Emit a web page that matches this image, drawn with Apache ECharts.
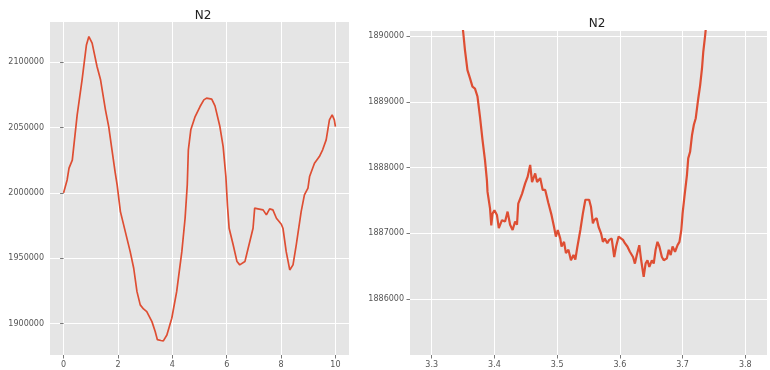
<!DOCTYPE html>
<html>
<head>
<meta charset="utf-8">
<script src="https://cdn.jsdelivr.net/npm/echarts@6/dist/echarts.min.js"></script>
<style>html,body{margin:0;padding:0;background:#fff}#c{width:770px;height:370px}</style>
</head>
<body>
<div id="c"></div>
<script>
// Left panel: full series
const leftX = [0,0.05,0.13,0.2,0.32,0.5,0.68,0.84,0.93,1.0,1.05,1.23,1.36,1.54,1.66,1.78,1.9,1.97,2.09,2.27,2.45,2.58,2.70,2.82,2.94,3.06,3.25,3.37,3.45,3.58,3.67,3.80,3.98,4.16,4.35,4.47,4.55,4.59,4.68,4.84,5.02,5.16,5.26,5.45,5.57,5.75,5.87,5.97,6.03,6.09,6.24,6.38,6.48,6.67,6.79,6.97,7.03,7.15,7.34,7.46,7.58,7.70,7.83,8.01,8.07,8.19,8.32,8.44,8.56,8.74,8.86,8.99,9.05,9.23,9.41,9.53,9.66,9.78,9.88,9.96,10.0];
const leftY = [2000000,1999200,2009900,2018900,2025000,2059600,2086400,2113100,2119500,2118000,2114400,2096600,2086400,2063500,2050700,2032900,2015300,2006100,1985700,1970400,1955100,1942400,1924500,1914400,1911300,1909300,1901600,1894000,1887800,1887200,1886900,1891400,1904200,1924500,1955100,1980600,2006100,2032900,2048200,2058300,2066000,2071100,2072400,2071600,2066500,2050700,2035400,2012500,1990000,1973000,1960200,1947500,1945000,1947500,1957700,1973000,1988300,1987800,1987000,1983200,1987800,1987000,1980600,1976000,1973000,1955100,1941100,1945000,1960200,1985700,1998500,2003600,2012500,2022700,2027800,2032900,2040500,2055800,2059600,2055800,2050700];
// Right panel: zoomed detail
const rightX = [3.346,3.350,3.353,3.357,3.361,3.365,3.369,3.373,3.377,3.381,3.385,3.388,3.389,3.393,3.395,3.397,3.400,3.404,3.407,3.412,3.417,3.421,3.425,3.429,3.433,3.436,3.438,3.444,3.449,3.453,3.457,3.460,3.465,3.468,3.473,3.477,3.481,3.486,3.491,3.495,3.498,3.501,3.505,3.507,3.511,3.514,3.518,3.522,3.526,3.529,3.532,3.537,3.541,3.545,3.548,3.551,3.554,3.557,3.559,3.563,3.566,3.570,3.573,3.576,3.580,3.583,3.587,3.591,3.594,3.598,3.600,3.605,3.608,3.612,3.616,3.621,3.624,3.627,3.631,3.634,3.638,3.641,3.644,3.647,3.651,3.654,3.657,3.660,3.663,3.667,3.670,3.675,3.678,3.681,3.684,3.688,3.692,3.695,3.698,3.700,3.703,3.707,3.709,3.712,3.715,3.718,3.721,3.725,3.728,3.731,3.733,3.736,3.740];
const rightY = [1890300,1890080,1889790,1889480,1889360,1889230,1889200,1889080,1888770,1888420,1888110,1887810,1887630,1887380,1887120,1887300,1887350,1887280,1887080,1887200,1887180,1887330,1887130,1887050,1887180,1887130,1887450,1887600,1887760,1887860,1888040,1887780,1887910,1887780,1887840,1887660,1887660,1887460,1887280,1887100,1886950,1887050,1886920,1886800,1886870,1886700,1886750,1886590,1886670,1886600,1886780,1887050,1887300,1887510,1887530,1887510,1887400,1887150,1887200,1887230,1887100,1887000,1886870,1886920,1886850,1886900,1886920,1886640,1886800,1886950,1886970,1886900,1886850,1886800,1886720,1886640,1886540,1886670,1886820,1886590,1886340,1886540,1886590,1886490,1886590,1886540,1886750,1886870,1886800,1886640,1886590,1886620,1886750,1886670,1886800,1886720,1886820,1886870,1887050,1887300,1887560,1887890,1888140,1888240,1888490,1888650,1888750,1889050,1889250,1889510,1889760,1890010,1890400];
// Tick labels
const leftXTicks = [0,2,4,6,8,10];
const leftYTicks = [1900000,1950000,2000000,2050000,2100000];
const rightXTicks = [3.3,3.4,3.5,3.6,3.7,3.8];
const rightYTicks = [1886000,1887000,1888000,1889000,1890000];
const titleText = 'N2';

const font = 'DejaVu Sans';
const lineColor = '#DE4E33';
const lbl = {color:'#555', fontSize:8, fontFamily:font};
function xAxis(idx, min, max, ticks, fmt){
  return {type:'value', gridIndex:idx, min:min, max:max, splitNumber:5,
    axisLine:{show:false},
    axisTick:{show:true, customValues:ticks, length:3.5, lineStyle:{color:'#555', width:0.8}},
    axisLabel:Object.assign({customValues:ticks, margin:6, formatter:fmt}, lbl),
    splitLine:{show:true, lineStyle:{color:'#fff', width:1}}};
}
function yAxis(idx, min, max, ticks){
  return {type:'value', gridIndex:idx, min:min, max:max, splitNumber:5,
    axisLine:{show:false},
    axisTick:{show:true, customValues:ticks, length:3.5, lineStyle:{color:'#555', width:0.8}},
    axisLabel:Object.assign({customValues:ticks, margin:6, formatter:v=>String(Math.round(v))}, lbl),
    splitLine:{show:true, lineStyle:{color:'#fff', width:1}}};
}
const chart = echarts.init(document.getElementById('c'), null, {renderer:'canvas'});
chart.setOption({
  animation:false,
  backgroundColor:'#fff',
  title:[
    {text:titleText, left:198, top:5, textAlign:'center', textStyle:{fontFamily:font, fontSize:12, fontWeight:'normal', color:'#222'}},
    {text:titleText, left:592, top:13, textAlign:'center', textStyle:{fontFamily:font, fontSize:12, fontWeight:'normal', color:'#222'}}
  ],
  grid:[
    {left:50, top:22, width:299, height:333, show:true, backgroundColor:'#E5E5E5', borderWidth:0},
    {left:410, top:31, width:357, height:324, show:true, backgroundColor:'#E5E5E5', borderWidth:0}
  ],
  xAxis:[
    xAxis(0, -0.5, 10.5, leftXTicks, v=>String(Math.round(v))),
    xAxis(1, 3.2654, 3.8346, rightXTicks, v=>v.toFixed(1))
  ],
  yAxis:[
    yAxis(0, 1876100, 2130600, leftYTicks),
    yAxis(1, 1885150, 1890076, rightYTicks)
  ],
  series:[
    {type:'line', xAxisIndex:0, yAxisIndex:0, showSymbol:false, clip:true,
     lineStyle:{color:lineColor, width:1.7}, data:leftX.map((x,i)=>[x,leftY[i]])},
    {type:'line', xAxisIndex:1, yAxisIndex:1, showSymbol:false, clip:true,
     lineStyle:{color:lineColor, width:2.2}, data:rightX.map((x,i)=>[x,rightY[i]])}
  ]
});
</script>
</body>
</html>
